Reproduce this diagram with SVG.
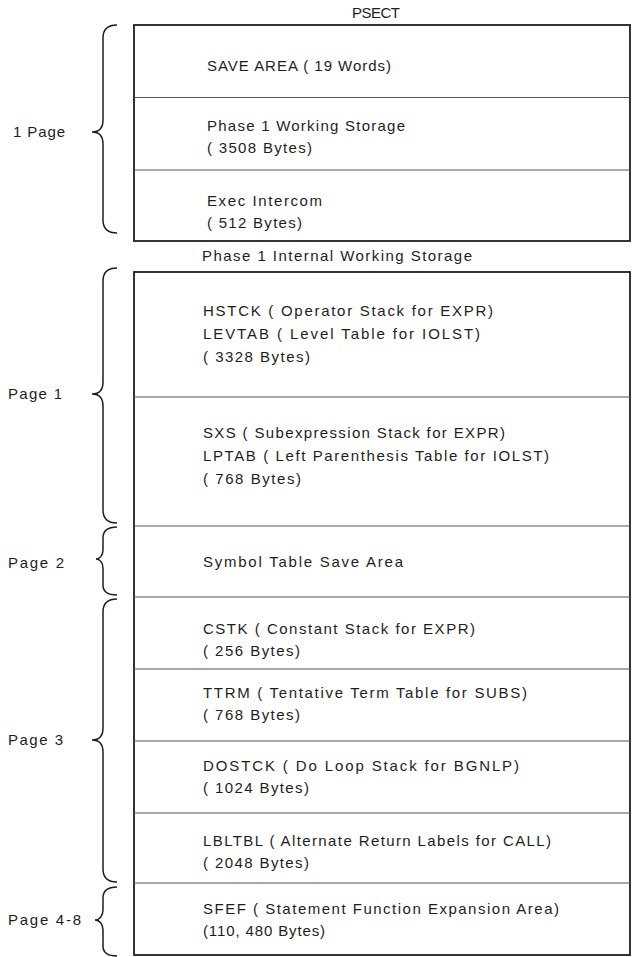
<svg xmlns="http://www.w3.org/2000/svg" width="635" height="957" viewBox="0 0 635 957">
<style>
text{font-family:"Liberation Sans",Arial,sans-serif;font-size:15px;fill:#1e1e1e}
.box{fill:#fff;stroke:#1e1e1e;stroke-width:1.8}
.div{stroke:#555;stroke-width:1.2}
.brace{fill:none;stroke:#1e1e1e;stroke-width:1.5}
</style>
<rect width="635" height="957" fill="#fff"/>
<text x="352" y="18" textLength="48">PSECT</text>
<text x="202" y="261" textLength="270">Phase 1 Internal Working Storage</text>

<g id="psect">
<rect class="box" x="134" y="25" width="496" height="216"/>
<line class="div" x1="134" y1="97.5" x2="630" y2="97.5"/>
<line class="div" x1="134" y1="170" x2="630" y2="170"/>
<text x="207" y="71" textLength="184">SAVE AREA ( 19 Words)</text>
<text x="207" y="131" textLength="198">Phase 1 Working Storage</text>
<text x="207" y="153" textLength="105">( 3508 Bytes)</text>
<text x="207" y="206" textLength="115">Exec Intercom</text>
<text x="207" y="228" textLength="95">( 512 Bytes)</text>
</g>

<g id="internal">
<rect class="box" x="134" y="272" width="496" height="683"/>
<line class="div" x1="134" y1="397" x2="630" y2="397"/>
<line class="div" x1="134" y1="526" x2="630" y2="526"/>
<line class="div" x1="134" y1="597" x2="630" y2="597"/>
<line class="div" x1="134" y1="669" x2="630" y2="669"/>
<line class="div" x1="134" y1="741" x2="630" y2="741"/>
<line class="div" x1="134" y1="813" x2="630" y2="813"/>
<line class="div" x1="134" y1="883" x2="630" y2="883"/>
<text x="203" y="316" textLength="290">HSTCK ( Operator Stack for EXPR)</text>
<text x="203" y="339" textLength="277">LEVTAB ( Level Table for IOLST)</text>
<text x="203" y="362" textLength="107">( 3328 Bytes)</text>
<text x="203" y="438" textLength="302">SXS ( Subexpression Stack for EXPR)</text>
<text x="203" y="461" textLength="346">LPTAB ( Left Parenthesis Table for IOLST)</text>
<text x="203" y="484" textLength="98">( 768 Bytes)</text>
<text x="203" y="567" textLength="200">Symbol Table Save Area</text>
<text x="203" y="634" textLength="272">CSTK ( Constant Stack for EXPR)</text>
<text x="203" y="656" textLength="97">( 256 Bytes)</text>
<text x="203" y="698" textLength="324">TTRM ( Tentative Term Table for SUBS)</text>
<text x="203" y="720" textLength="97">( 768 Bytes)</text>
<text x="203" y="771" textLength="316">DOSTCK ( Do Loop Stack for BGNLP)</text>
<text x="203" y="793" textLength="106">( 1024 Bytes)</text>
<text x="203" y="846" textLength="348">LBLTBL ( Alternate Return Labels for CALL)</text>
<text x="203" y="868" textLength="106">( 2048 Bytes)</text>
<text x="203" y="914" textLength="356">SFEF ( Statement Function Expansion Area)</text>
<text x="203" y="936" textLength="122">(110, 480 Bytes)</text>
</g>

<g id="braces">
<path class="brace" d="M117 25 C108 25 103 29 103 38 L103 120 C103 128 99 132 92 132 C99 132 103 136 103 144 L103 220 C103 229 108 233 117 233"/>
<path class="brace" d="M117 268 C108 268 103 272 103 281 L103 382 C103 390 99 394 92 394 C99 394 103 398 103 406 L103 510 C103 519 108 523 117 523"/>
<path class="brace" d="M117 527 C108 527 103 531 103 538 L103 550 C103 555 100 559 96 559 C100 559 103 563 103 568 L103 585 C103 592 108 595 117 595"/>
<path class="brace" d="M117 599 C108 599 103 603 103 612 L103 728 C103 736 99 740 92 740 C99 740 103 744 103 752 L103 869 C103 878 108 882 117 882"/>
<path class="brace" d="M117 887 C108 887 103 891 103 898 L103 910 C103 915 100 920 95 920 C100 920 103 925 103 930 L103 946 C103 953 108 956 117 956"/>
</g>

<g id="labels">
<text x="13" y="137" textLength="52">1 Page</text>
<text x="8" y="399" textLength="54">Page 1</text>
<text x="8" y="568" textLength="56">Page 2</text>
<text x="8" y="745" textLength="55">Page 3</text>
<text x="8" y="925" textLength="73">Page 4-8</text>
</g>
</svg>
